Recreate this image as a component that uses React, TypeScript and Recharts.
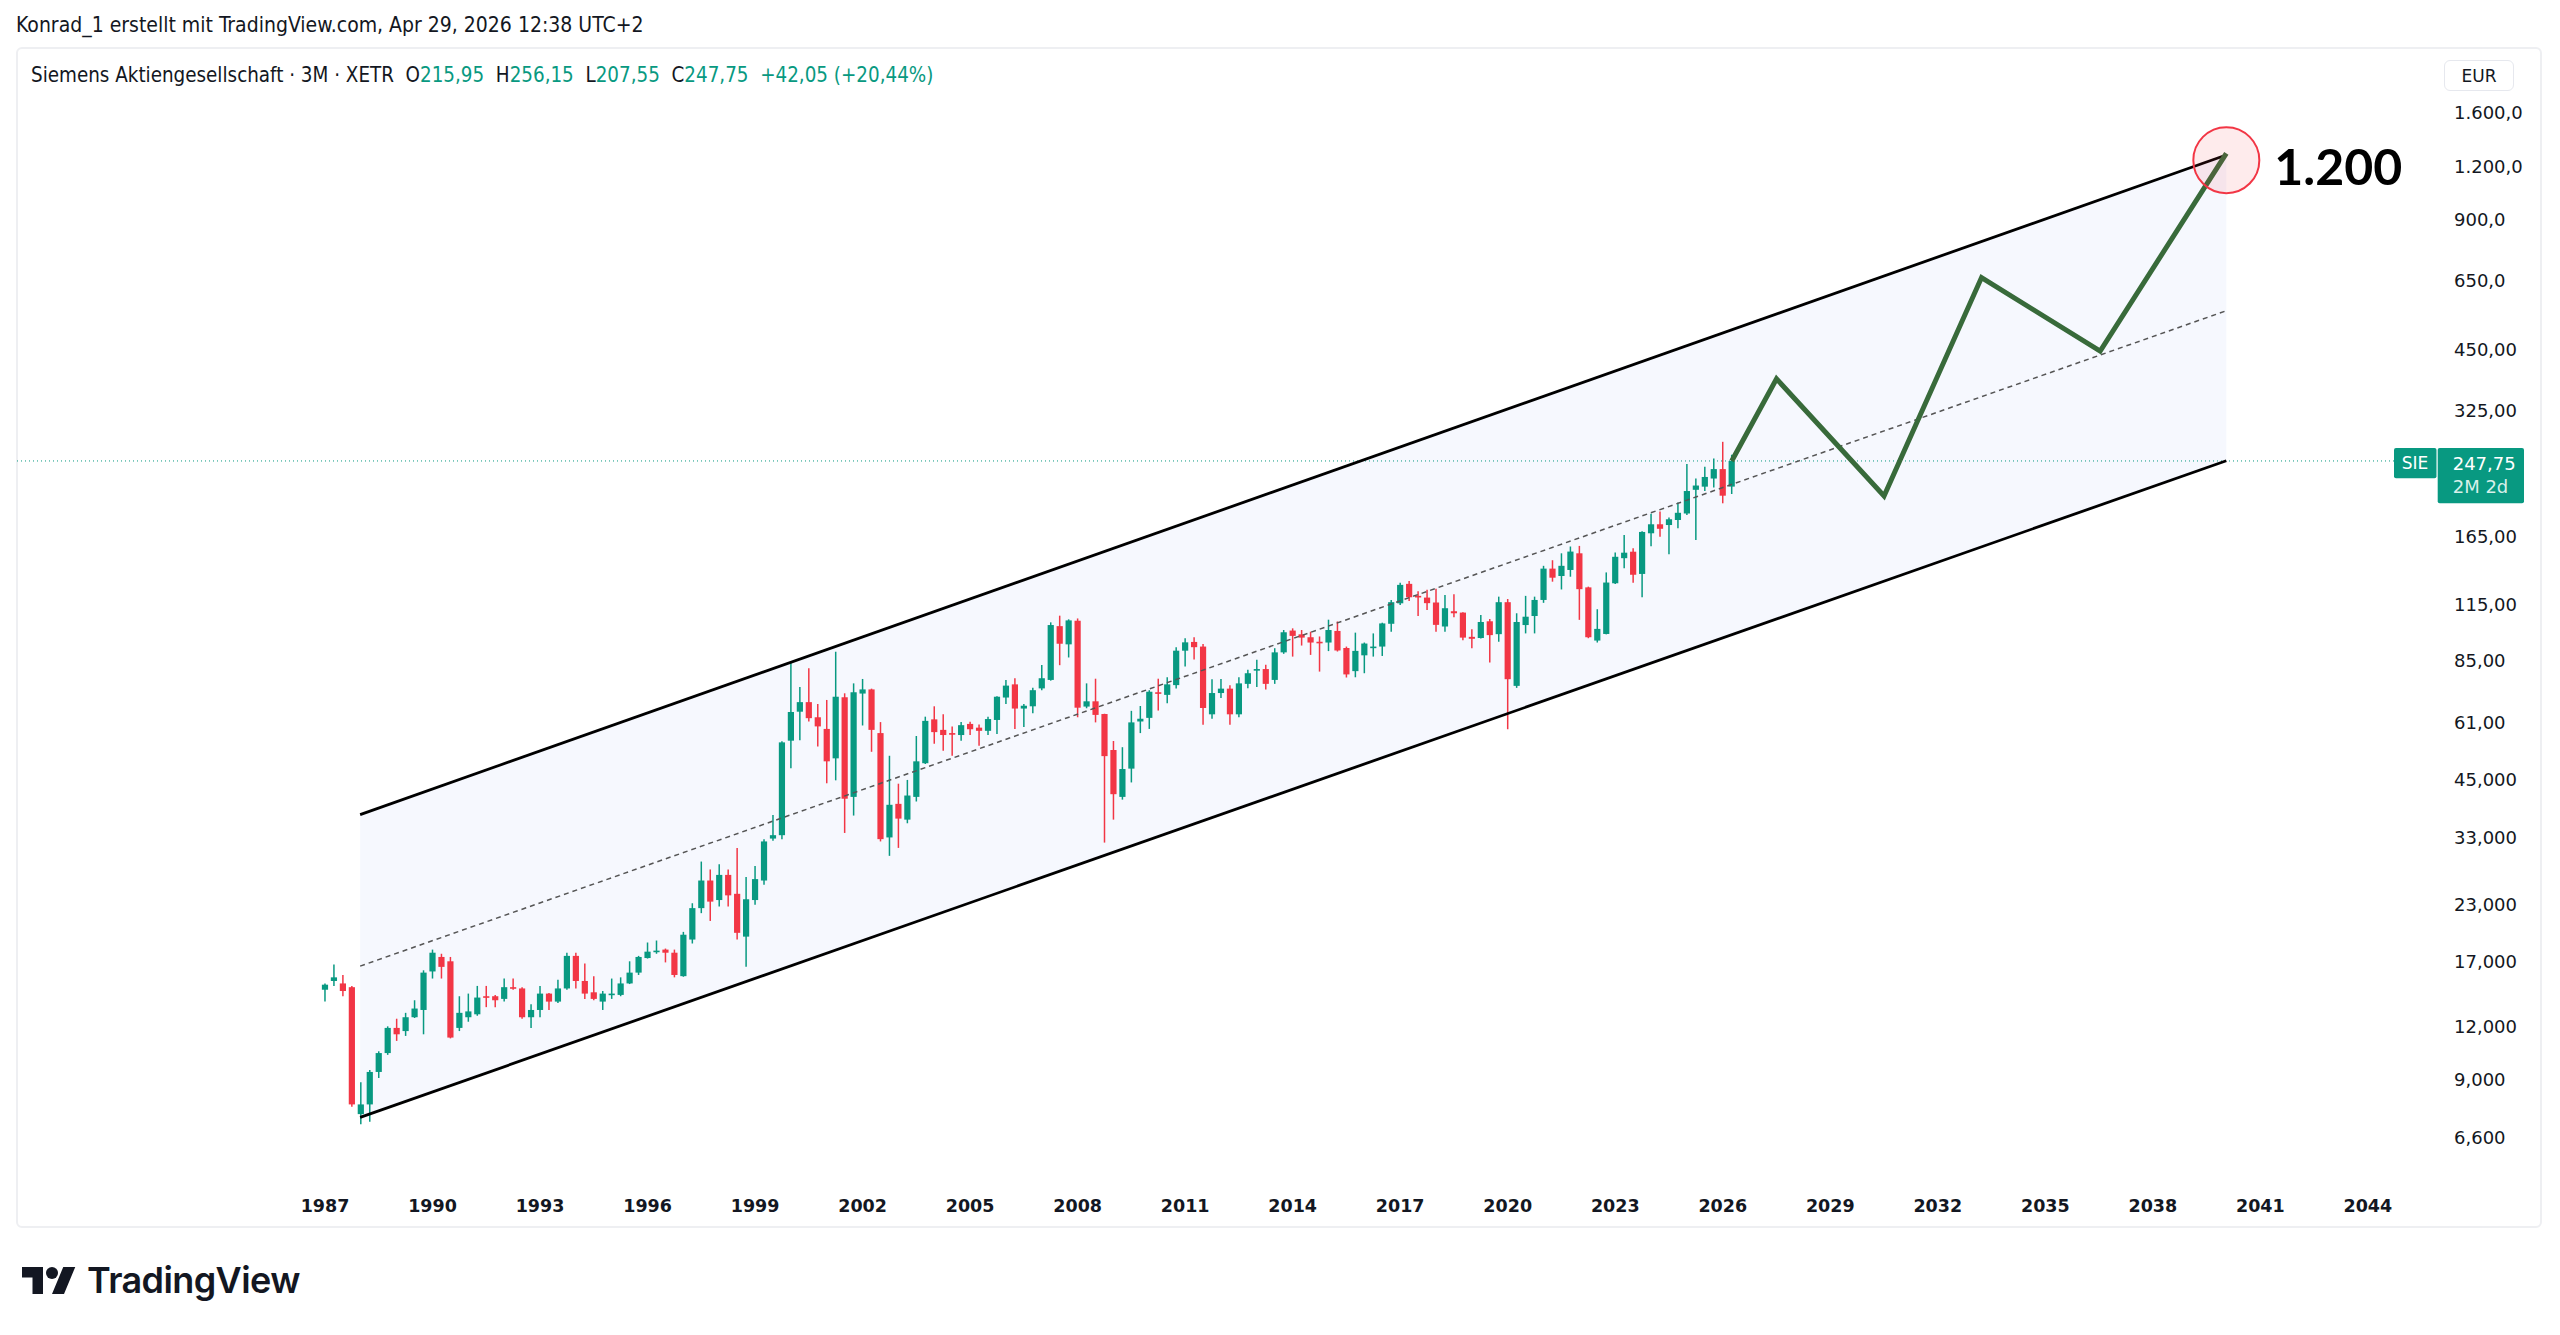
import React from 'react';
import { ComposedChart, Bar, Line, Area, XAxis, YAxis, ReferenceLine, ReferenceDot } from 'recharts';

const GREEN = '#089981';
const RED = '#F23645';
const INK = '#131722';

// Quarterly candles, 1987 Q1 .. 2026 Q2 (XETR:SIE, 3M)
const FIRST_YEAR = 1987;
const opens = [
  14.6, 15.3, 15.1, 14.8, 7.5, 7.9, 9.4, 10.4, 11.9, 11.7, 12.6, 13.1, 16.1, 17.4, 17.0, 11.9, 12.6, 12.8, 14.1, 14.1,
  13.9, 14.8, 14.7, 12.6, 13.1, 14.3, 13.7, 14.7, 17.5, 15.3, 14.4, 13.7, 14.2, 14.2, 15.1, 16.0, 17.3, 17.9, 18.1, 17.8,
  15.7, 19.1, 22.6, 26.2, 23.6, 27.0, 24.4, 19.4, 23.6, 26.2, 32.8, 33.4, 55.4, 64.7, 68.1, 62.8, 59.0, 50.4, 69.9, 41.0,
  71.3, 72.9, 57.7, 33.0, 39.5, 36.3, 41.0, 49.1, 62.1, 58.7, 57.7, 57.1, 60.6, 59.4, 58.4, 61.9, 69.8, 74.9, 65.8, 66.6,
  73.3, 76.7, 102.3, 92.8, 105.3, 66.5, 68.4, 63.9, 52.7, 41.0, 47.7, 61.4, 62.6, 71.8, 70.8, 74.6, 89.7, 94.0, 91.7, 63.8,
  71.5, 73.2, 63.8, 75.1, 80.6, 81.3, 76.7, 88.9, 99.9, 97.9, 96.4, 94.1, 93.7, 99.7, 91.0, 80.4, 87.5, 91.2, 91.7, 103.6,
  115.6, 128.3, 120.3, 119.2, 116.1, 102.1, 110.8, 110.0, 96.6, 96.0, 105.0, 98.0, 116.3, 74.3, 102.9, 108.0, 117.7, 139.2, 133.8, 138.2,
  151.1, 125.9, 94.7, 98.1, 128.7, 147.2, 152.4, 135.3, 168.2, 176.5, 175.8, 180.6, 187.0, 212.3, 215.9, 225.5, 237.2, 215.95,
];
const highs = [
  15.1, 16.7, 15.8, 14.9, 8.9, 9.5, 10.5, 12.0, 12.5, 12.9, 13.8, 16.2, 18.1, 17.7, 17.4, 14.1, 14.3, 14.9, 14.9, 14.2,
  15.5, 15.5, 14.8, 13.5, 14.9, 14.35, 15.4, 17.8, 17.8, 16.8, 15.7, 14.5, 15.5, 15.6, 17.0, 17.5, 18.8, 19.0, 18.2, 18.1,
  19.9, 23.2, 29.0, 27.8, 28.6, 27.8, 31.2, 26.7, 28.3, 32.7, 37.2, 55.2, 84.1, 73.8, 81.6, 67.4, 68.9, 89.2, 71.4, 75.3,
  77.1, 73.2, 61.2, 51.1, 44.0, 44.9, 56.8, 63.0, 66.6, 63.8, 59.8, 61.2, 61.3, 60.4, 63.0, 70.3, 76.7, 77.4, 67.4, 73.6,
  83.1, 104.4, 108.2, 106.1, 106.6, 75.3, 77.2, 64.0, 55.3, 53.5, 65.0, 66.7, 72.6, 77.2, 77.8, 91.4, 95.9, 96.4, 93.0, 77.0,
  77.1, 74.5, 77.8, 81.0, 85.4, 83.2, 90.9, 100.2, 101.1, 100.2, 99.3, 96.8, 105.9, 104.9, 91.7, 98.8, 93.7, 98.4, 104.2, 117.6,
  129.0, 130.3, 123.3, 124.3, 124.9, 120.9, 121.4, 110.2, 100.6, 108.6, 106.3, 119.8, 118.3, 109.6, 120.3, 119.8, 141.3, 145.6, 151.1, 156.7,
  157.2, 126.4, 112.0, 136.4, 151.7, 166.7, 155.3, 170.0, 186.7, 189.1, 183.0, 198.4, 243.8, 225.5, 240.1, 251.1, 274.5, 256.15,
];
const lows = [
  13.7, 14.9, 14.1, 7.8, 7.1, 7.2, 9.1, 10.3, 11.1, 11.4, 12.55, 11.5, 15.5, 15.5, 11.25, 11.7, 12.3, 12.7, 13.3, 13.3,
  13.7, 14.6, 12.5, 11.9, 12.6, 13.1, 13.6, 14.6, 14.7, 13.9, 13.8, 13.1, 13.9, 14.1, 15.05, 15.8, 17.25, 17.7, 16.9, 15.6,
  15.65, 18.7, 22.0, 21.1, 22.8, 22.8, 19.1, 16.5, 23.0, 25.6, 32.4, 32.7, 47.8, 55.5, 61.4, 53.7, 44.1, 44.8, 33.8, 37.1,
  60.1, 52.2, 32.3, 29.9, 31.2, 35.6, 40.0, 48.9, 54.5, 52.5, 51.1, 55.4, 57.1, 53.9, 57.1, 57.4, 67.4, 59.0, 59.6, 64.2,
  72.6, 76.4, 83.0, 86.5, 62.8, 65.9, 61.1, 32.1, 36.3, 40.4, 44.3, 57.7, 59.0, 65.1, 67.7, 73.3, 82.4, 85.6, 60.3, 62.3,
  69.6, 60.3, 62.8, 73.4, 73.8, 72.9, 75.1, 88.2, 86.9, 92.2, 87.7, 80.2, 89.5, 89.3, 77.7, 77.8, 79.5, 86.9, 87.2, 99.3,
  114.6, 117.0, 108.0, 111.5, 99.3, 99.3, 107.3, 94.9, 90.9, 95.7, 84.2, 94.1, 58.9, 73.5, 98.4, 98.4, 115.9, 129.8, 124.5, 133.3,
  105.8, 95.9, 93.7, 97.9, 128.2, 139.5, 129.1, 119.4, 157.0, 165.2, 150.3, 172.7, 185.6, 162.2, 211.0, 214.9, 197.5, 207.55,
];
const closes = [
  15.0, 15.6, 14.5, 7.9, 7.9, 9.4, 10.4, 11.9, 11.5, 12.6, 13.2, 16.0, 17.8, 16.5, 11.3, 12.9, 13.0, 14.0, 14.0, 13.8,
  14.8, 14.7, 12.6, 13.1, 14.3, 13.7, 14.7, 17.5, 15.3, 14.3, 13.9, 14.3, 14.3, 15.1, 16.0, 17.4, 17.9, 18.0, 17.8, 15.8,
  19.6, 22.6, 26.2, 23.4, 27.0, 24.2, 19.8, 23.7, 26.4, 32.3, 33.4, 54.9, 64.6, 68.1, 62.5, 59.8, 49.6, 70.1, 40.6, 71.8,
  72.9, 58.7, 32.7, 39.3, 36.5, 41.3, 49.6, 61.6, 58.0, 57.1, 57.2, 60.2, 58.9, 58.4, 62.2, 70.1, 74.4, 65.8, 66.8, 72.6,
  77.4, 102.9, 93.1, 105.5, 66.1, 68.4, 63.6, 51.0, 41.6, 47.6, 61.1, 62.3, 72.0, 71.4, 74.9, 89.7, 93.8, 91.4, 66.0, 71.5,
  73.2, 63.8, 75.3, 79.5, 81.3, 75.1, 88.9, 99.0, 97.1, 96.2, 93.7, 93.4, 100.2, 89.8, 79.0, 89.6, 93.2, 91.7, 103.8, 116.3,
  127.6, 119.4, 119.4, 115.7, 103.0, 112.6, 109.6, 96.2, 95.6, 104.6, 97.5, 116.3, 77.0, 104.6, 107.6, 117.7, 139.2, 132.6, 141.3, 152.5,
  124.7, 96.4, 100.8, 129.2, 148.3, 151.6, 134.7, 169.4, 176.5, 172.3, 181.3, 187.7, 210.9, 217.2, 227.4, 237.2, 205.7, 247.75,
];

const yearTicks = [1987, 1990, 1993, 1996, 1999, 2002, 2005, 2008, 2011, 2014, 2017, 2020, 2023, 2026, 2029, 2032, 2035, 2038, 2041, 2044];
const priceTicks = [6.6, 9, 12, 17, 23, 33, 45, 61, 85, 115, 165, 325, 450, 650, 900, 1200, 1600];
const priceTickLabels = ['6,600', '9,000', '12,000', '17,000', '23,000', '33,000', '45,000', '61,00', '85,00', '115,00', '165,00', '325,00', '450,00', '650,0', '900,0', '1.200,0', '1.600,0'];

// Channel drawing (two anchor points each)
const channelTimes = [1987.98, 2040.05];
const channelUpper = [37.3, 1275];
const channelLower = [7.37, 248.1];
const channelMid = [16.57, 553.8];

// Projected path
const projectionTimes = [2026.25, 2027.5, 2030.5, 2033.22, 2036.53, 2040.05];
const projectionValues = [247.75, 384.6, 205.4, 661.4, 446.3, 1286];

const targetTime = 2040.05;
const targetValue = 1240;
const targetLabel = '1.200';
const lastPrice = 247.75;
const lastPriceLabel = '247,75';
const countdownLabel = '2M 2d';
const symbolLabel = 'SIE';

const candleData = opens.map((o, i) => ({
  t: FIRST_YEAR + i / 4,
  open: o,
  high: highs[i],
  low: lows[i],
  close: closes[i],
  range: [lows[i], highs[i]],
}));
const channelData = channelTimes.map((t, i) => ({
  t,
  upper: channelUpper[i],
  lower: channelLower[i],
  mid: channelMid[i],
  band: [channelLower[i], channelUpper[i]],
}));
const projectionData = projectionTimes.map((t, i) => ({ t, v: projectionValues[i] }));

function Candle(props: any) {
  const { x, y, width, height, payload } = props;
  if (!payload || x == null || y == null) return null;
  const top = Math.min(y, y + height);
  const bottom = Math.max(y, y + height);
  const lh = Math.log(payload.high);
  const ll = Math.log(payload.low);
  const span = lh - ll || 1;
  const yOf = (v: number) => top + ((lh - Math.log(v)) / span) * (bottom - top);
  const cx = x + width / 2;
  const up = payload.close >= payload.open;
  const color = up ? GREEN : RED;
  const yo = yOf(payload.open);
  const yc = yOf(payload.close);
  const bt = Math.min(yo, yc);
  const bb = Math.max(yo, yc);
  const bw = 6.2;
  return (
    <g>
      <line x1={cx} x2={cx} y1={top} y2={bottom} stroke={color} strokeWidth={1.5} />
      <rect x={cx - bw / 2} y={bt} width={bw} height={Math.max(bb - bt, 1.6)} fill={color} />
    </g>
  );
}

function PriceTag(props: any) {
  const vb = props.viewBox;
  if (!vb) return null;
  const right = vb.x + vb.width;
  const y = vb.y;
  return (
    <g fontFamily="DejaVu Sans, sans-serif">
      <rect x={right - 36} y={y - 13} width={42.5} height={30.4} rx={2} fill={GREEN} />
      <text x={right - 15} y={y + 2.5} textAnchor="middle" dominantBaseline="central" fill="#fff" fontSize={17}>{symbolLabel}</text>
      <rect x={right + 7.7} y={y - 13} width={86.3} height={55.4} rx={2} fill={GREEN} />
      <text x={right + 22.7} y={y + 2.5} dominantBaseline="central" fill="#fff" fontSize={18}>{lastPriceLabel}</text>
      <text x={right + 22.7} y={y + 26} dominantBaseline="central" fill="#d8f0ea" fontSize={18}>{countdownLabel}</text>
    </g>
  );
}

function TargetText(props: any) {
  const vb = props.viewBox;
  if (!vb) return null;
  return (
    <text x={vb.x + vb.width + 15} y={vb.y + vb.height / 2 + 6} dominantBaseline="central" fontFamily="Lato, sans-serif" fontWeight={700} fontSize={50} fill="#000">
      {targetLabel}
    </text>
  );
}

function YTick(props: any) {
  const { x, y, payload } = props;
  const idx = priceTicks.indexOf(payload.value);
  const label = idx >= 0 ? priceTickLabels[idx] : String(payload.value);
  return (
    <text x={x} y={y} dy="0.355em" textAnchor="start" fill={INK} fontSize={18} fontFamily="DejaVu Sans, sans-serif">
      {label}
    </text>
  );
}

function XTick(props: any) {
  const { x, y, payload } = props;
  return (
    <text x={x} y={y} dy="0.71em" textAnchor="middle" fill={INK} fontSize={17.5} fontWeight={700} fontFamily="DejaVu Sans, sans-serif">
      {String(payload.value)}
    </text>
  );
}

export default function App() {
  const condensed = '"DejaVu Sans Condensed", "Liberation Sans Narrow", "Roboto Condensed", sans-serif';
  return (
    <div style={{ position: 'absolute', left: 0, top: 0, width: 2560, height: 1335, background: '#fff', overflow: 'hidden' }}>
      <div style={{ position: 'absolute', left: 16, top: 13, fontFamily: condensed, fontSize: 21, color: INK, whiteSpace: 'nowrap' }}>
        Konrad_1 erstellt mit TradingView.com, Apr 29, 2026 12:38 UTC+2
      </div>
      <div style={{ position: 'absolute', left: 16, top: 47, width: 2526, height: 1181, border: '2px solid #eeeff2', borderRadius: 6, boxSizing: 'border-box' }} />
      <div style={{ position: 'absolute', left: 0, top: 0 }}>
        <ComposedChart width={2560} height={1335} data={candleData} margin={{ top: 47, right: 0, bottom: 115, left: 16 }}>
          <XAxis
            type="number"
            dataKey="t"
            domain={[1978.378, 2045.733]}
            allowDataOverflow
            ticks={yearTicks}
            interval={0}
            tickLine={false}
            axisLine={false}
            tickSize={6}
            tickMargin={14}
            height={40}
            tick={<XTick />}
          />
          <YAxis
            orientation="right"
            scale="log"
            domain={[5.2705, 2273.5]}
            allowDataOverflow
            ticks={priceTicks}
            interval={0}
            tickLine={false}
            axisLine={false}
            tickSize={6}
            tickMargin={18}
            width={130}
            tick={<YTick />}
          />
          <Area data={channelData} dataKey="band" type="linear" fill="#f6f8fe" fillOpacity={1} stroke="none" isAnimationActive={false} />
          <ReferenceLine y={lastPrice} stroke={GREEN} strokeDasharray="1 3" strokeWidth={1} label={<PriceTag />} />
          <Bar dataKey="range" barSize={6} shape={<Candle />} isAnimationActive={false} />
          <Line data={channelData} dataKey="mid" type="linear" stroke="#555" strokeWidth={1.5} strokeDasharray="5 4" dot={false} activeDot={false} isAnimationActive={false} />
          <Line data={channelData} dataKey="upper" type="linear" stroke="#000" strokeWidth={2.8} dot={false} activeDot={false} isAnimationActive={false} />
          <Line data={channelData} dataKey="lower" type="linear" stroke="#000" strokeWidth={2.8} dot={false} activeDot={false} isAnimationActive={false} />
          <Line data={projectionData} dataKey="v" type="linear" stroke="#386a3a" strokeWidth={5} dot={false} activeDot={false} isAnimationActive={false} />
          <ReferenceDot x={targetTime} y={targetValue} r={33} fill="rgba(242,54,69,0.1)" stroke={RED} strokeWidth={2} label={<TargetText />} />
        </ComposedChart>
      </div>
      <div style={{ position: 'absolute', left: 31, top: 63, fontFamily: condensed, fontSize: 20.4, color: INK, whiteSpace: 'nowrap' }}>
        Siemens Aktiengesellschaft · 3M · XETR&nbsp;&nbsp;O<span style={{ color: GREEN }}>215,95</span>&nbsp;&nbsp;H<span style={{ color: GREEN }}>256,15</span>&nbsp;&nbsp;L<span style={{ color: GREEN }}>207,55</span>&nbsp;&nbsp;C<span style={{ color: GREEN }}>247,75</span>&nbsp;&nbsp;<span style={{ color: GREEN }}>+42,05 (+20,44%)</span>
      </div>
      <div style={{ position: 'absolute', left: 2444, top: 60, width: 70, height: 31, border: '1px solid #e6e8ee', borderRadius: 6, boxSizing: 'border-box', display: 'flex', alignItems: 'center', justifyContent: 'center', fontFamily: 'DejaVu Sans, sans-serif', fontSize: 17, color: INK }}>
        EUR
      </div>
      <svg style={{ position: 'absolute', left: 21.7, top: 1261 }} width={54} height={42} viewBox="0 0 36 28">
        <path d="M14 22H7V11H0V4h14v18z M28 22h-8l7.5-18h8L28 22z" fill={INK} />
        <circle cx={20} cy={8} r={4} fill={INK} />
      </svg>
      <div style={{ position: 'absolute', left: 87, top: 1258, fontFamily: 'Inter, sans-serif', fontWeight: 600, fontSize: 36, letterSpacing: -0.6, color: INK, whiteSpace: 'nowrap' }}>
        TradingView
      </div>
    </div>
  );
}
